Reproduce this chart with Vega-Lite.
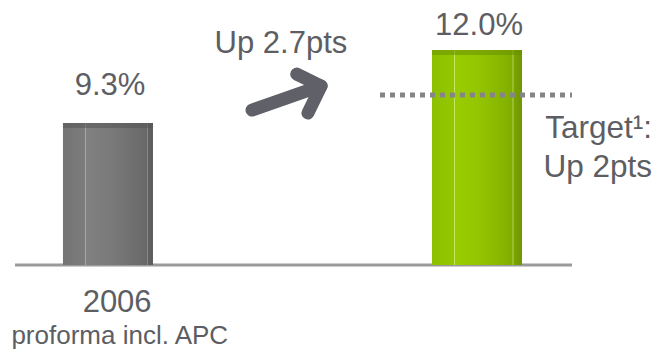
{
  "$schema": "https://vega.github.io/schema/vega-lite/v6.json",
  "width": 658,
  "height": 355,
  "autosize": {"type": "fit", "contains": "padding"},
  "padding": 0,
  "background": "white",
  "config": {"view": {"stroke": null}, "text": {"font": "Liberation Sans", "color": "#5d5e63", "baseline": "alphabetic"}},
  "datasets": {
    "bars": [
      {"name": "2006", "x0": 9.57, "x1": 23.25, "base": 4.05, "value": 9.3, "cap": 9.12},
      {"name": "now", "x0": 65.65, "x1": 79.33, "base": 4.05, "value": 12.0, "cap": 11.82}
    ],
    "arrow": [
      {"seg": "shaft", "ord": 1, "x": 38.3, "y": 9.78},
      {"seg": "shaft", "ord": 2, "x": 48.8, "y": 10.67},
      {"seg": "head", "ord": 1, "x": 45.1, "y": 11.11},
      {"seg": "head", "ord": 2, "x": 48.8, "y": 10.67},
      {"seg": "head", "ord": 3, "x": 46.8, "y": 9.67}
    ],
    "centerText": [
      {"label": "9.3%", "x": 16.72, "y": 10.34},
      {"label": "12.0%", "x": 72.8, "y": 12.56},
      {"label": "Up 2.7pts", "x": 42.7, "y": 11.89},
      {"label": "2006", "x": 17.8, "y": 2.3}
    ],
    "smallText": [
      {"label": "proforma incl. APC", "x": 18.2, "y": 1.12}
    ],
    "rightText": [
      {"label": "Target¹:", "x": 99.1, "y": 8.75},
      {"label": "Up 2pts", "x": 99.1, "y": 7.3}
    ]
  },
  "layer": [
    {
      "data": {"values": [{"x0": 2.28, "x1": 86.93, "y": 4.05}]},
      "mark": {"type": "rule", "color": "#9a9a9a", "strokeWidth": 3},
      "encoding": {
        "x": {"field": "x0", "type": "quantitative", "scale": {"domain": [0, 100]}, "axis": null},
        "x2": {"field": "x1"},
        "y": {"field": "y", "type": "quantitative", "scale": {"domain": [0.72, 13.85]}, "axis": null}
      }
    },
    {
      "data": {"name": "bars"},
      "transform": [{"filter": "datum.name == '2006'"}],
      "mark": {"type": "rect", "color": {"gradient": "linear", "x1": 0, "x2": 1, "y1": 0, "y2": 0, "stops": [
        {"offset": 0, "color": "#747474"},
        {"offset": 0.24, "color": "#7c7c7c"},
        {"offset": 0.25, "color": "#a8a8a8"},
        {"offset": 0.26, "color": "#808080"},
        {"offset": 0.5, "color": "#7b7b7b"},
        {"offset": 0.85, "color": "#6c6c6c"},
        {"offset": 0.93, "color": "#676767"},
        {"offset": 0.94, "color": "#8a8a8a"},
        {"offset": 0.95, "color": "#606060"},
        {"offset": 1, "color": "#5c5c5c"}
      ]}},
      "encoding": {
        "x": {"field": "x0", "type": "quantitative", "scale": {"domain": [0, 100]}, "axis": null},
        "x2": {"field": "x1"},
        "y": {"field": "value", "type": "quantitative", "scale": {"domain": [0.72, 13.85]}, "axis": null},
        "y2": {"field": "base"}
      }
    },
    {
      "data": {"name": "bars"},
      "transform": [{"filter": "datum.name == 'now'"}],
      "mark": {"type": "rect", "color": {"gradient": "linear", "x1": 0, "x2": 1, "y1": 0, "y2": 0, "stops": [
        {"offset": 0, "color": "#8cc000"},
        {"offset": 0.24, "color": "#93c800"},
        {"offset": 0.25, "color": "#c8e866"},
        {"offset": 0.26, "color": "#99cc00"},
        {"offset": 0.5, "color": "#95c600"},
        {"offset": 0.8, "color": "#86b400"},
        {"offset": 0.89, "color": "#80ac00"},
        {"offset": 0.9, "color": "#b8d860"},
        {"offset": 0.91, "color": "#7aa400"},
        {"offset": 1, "color": "#6f9600"}
      ]}},
      "encoding": {
        "x": {"field": "x0", "type": "quantitative", "scale": {"domain": [0, 100]}, "axis": null},
        "x2": {"field": "x1"},
        "y": {"field": "value", "type": "quantitative", "scale": {"domain": [0.72, 13.85]}, "axis": null},
        "y2": {"field": "base"}
      }
    },
    {
      "data": {"name": "bars"},
      "mark": {"type": "rect", "opacity": 0.55},
      "encoding": {
        "x": {"field": "x0", "type": "quantitative", "scale": {"domain": [0, 100]}, "axis": null},
        "x2": {"field": "x1"},
        "y": {"field": "value", "type": "quantitative", "scale": {"domain": [0.72, 13.85]}, "axis": null},
        "y2": {"field": "cap"},
        "color": {"field": "name", "type": "nominal", "scale": {"domain": ["2006", "now"], "range": ["#555555", "#6a8f00"]}, "legend": null}
      }
    },
    {
      "data": {"values": [{"x0": 57.75, "x1": 86.93, "y": 10.34}]},
      "mark": {"type": "rule", "color": "#858585", "strokeWidth": 5, "strokeDash": [5, 5]},
      "encoding": {
        "x": {"field": "x0", "type": "quantitative", "scale": {"domain": [0, 100]}, "axis": null},
        "x2": {"field": "x1"},
        "y": {"field": "y", "type": "quantitative", "scale": {"domain": [0.72, 13.85]}, "axis": null}
      }
    },
    {
      "data": {"name": "arrow"},
      "mark": {"type": "line", "color": "#5f6068", "strokeWidth": 13, "strokeCap": "round", "strokeJoin": "round"},
      "encoding": {
        "x": {"field": "x", "type": "quantitative", "scale": {"domain": [0, 100]}, "axis": null},
        "y": {"field": "y", "type": "quantitative", "scale": {"domain": [0.72, 13.85]}, "axis": null},
        "detail": {"field": "seg"},
        "order": {"field": "ord"}
      }
    },
    {
      "data": {"name": "centerText"},
      "mark": {"type": "text", "fontSize": 31, "align": "center"},
      "encoding": {
        "x": {"field": "x", "type": "quantitative", "scale": {"domain": [0, 100]}, "axis": null},
        "y": {"field": "y", "type": "quantitative", "scale": {"domain": [0.72, 13.85]}, "axis": null},
        "text": {"field": "label"}
      }
    },
    {
      "data": {"name": "smallText"},
      "mark": {"type": "text", "fontSize": 26, "align": "center"},
      "encoding": {
        "x": {"field": "x", "type": "quantitative", "scale": {"domain": [0, 100]}, "axis": null},
        "y": {"field": "y", "type": "quantitative", "scale": {"domain": [0.72, 13.85]}, "axis": null},
        "text": {"field": "label"}
      }
    },
    {
      "data": {"name": "rightText"},
      "mark": {"type": "text", "fontSize": 31.5, "align": "right"},
      "encoding": {
        "x": {"field": "x", "type": "quantitative", "scale": {"domain": [0, 100]}, "axis": null},
        "y": {"field": "y", "type": "quantitative", "scale": {"domain": [0.72, 13.85]}, "axis": null},
        "text": {"field": "label"}
      }
    }
  ]
}
